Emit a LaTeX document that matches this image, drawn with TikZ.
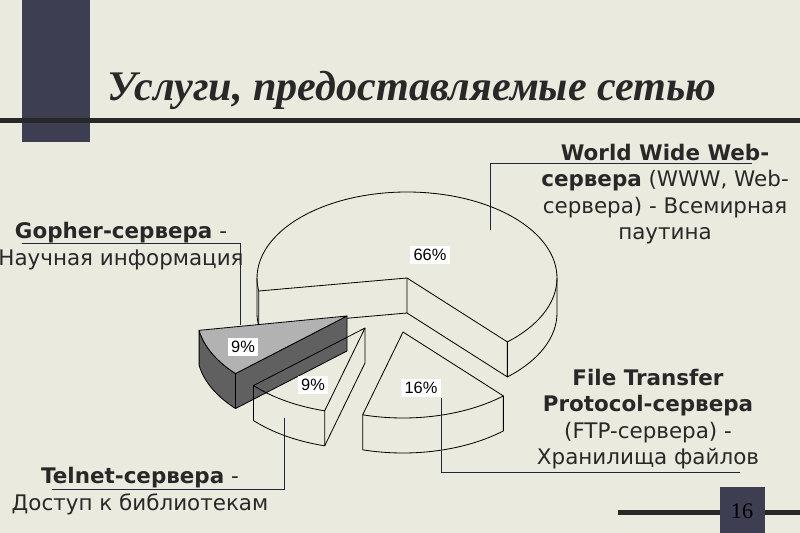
\documentclass[tikz,border=0pt]{standalone}
\usepackage{fontspec}
\setmainfont{DejaVu Sans}
\newfontfamily\titlefont{Liberation Serif}
\newfontfamily\pctfont{Liberation Sans}

\definecolor{bgpaper}{RGB}{234,234,222}
\definecolor{slateblue}{RGB}{62,62,82}
\definecolor{inkgray}{RGB}{40,40,40}
\definecolor{leadcol}{RGB}{30,40,60}
\definecolor{topgray}{RGB}{178,178,178}
\definecolor{sidegray}{RGB}{96,96,96}

\begin{document}
\begin{tikzpicture}[x=0.03cm,y=0.03cm,
  pct/.style={fill=white,inner sep=3pt,font=\pctfont\fontsize{14}{16}\selectfont},
  lbl/.style={align=center,text=inkgray,font=\fontsize{18.3}{22.5}\selectfont},
  leader/.style={draw=leadcol,line width=0.6pt},
  slice/.style={draw=black,line width=0.7pt,line join=round}]
\fill[bgpaper] (0,0) rectangle (800,-533);
\useasboundingbox (0,0) rectangle (800,-533);

% title bar
\fill[slateblue] (22,0) rectangle (90,-142);
\fill[inkgray] (0,-118) rectangle (800,-123);
\node[anchor=base west,inner sep=0pt,text=inkgray,
  font=\titlefont\bfseries\itshape\fontsize{36}{40}\selectfont] (title) at (107,-100)
  {Услуги, предоставляемые сетью};

% page number
\fill[inkgray] (618,-510) rectangle (800,-515);
\fill[slateblue] (720,-487) rectangle (765,-533);
\node[text=black,font=\titlefont\fontsize{19}{20}\selectfont] (pagenum) at (742,-511) {16};

% leader lines
\coordinate (gopstart) at (22,-243);
\coordinate (goptip) at (240,-325);
\draw[leader] (gopstart) -| (goptip);
\coordinate (wwwtip) at (490,-230);
\coordinate (wwwtail) at (752,-163);
\draw[leader] (wwwtip) |- (wwwtail);
\coordinate (teltip) at (284,-418);
\coordinate (teltail) at (52,-489);
\draw[leader] (teltip) |- (teltail);

% pie: 66% slice
\coordinate (www) at (407,-278);
\draw[slice] (www) -- ++(-48:150 and 86) arc[start angle=-48,end angle=188.7,x radius=150,y radius=86] -- cycle;
\draw[slice] (www) -- ++(0,-35) -- ++(-48:150 and 86) -- ++(0,35);
\draw[slice] (www) ++(0,-35) -- ++(188.7:150 and 86) -- ++(0,35);
\draw[slice] (www) ++(-48:150 and 86) ++(0,-35) arc[start angle=-48,end angle=0,x radius=150,y radius=86] -- ++(0,35);
\draw[slice] (www) ++(180:150 and 86) -- ++(0,-35) arc[start angle=180,end angle=188.7,x radius=150,y radius=86];

% gopher slice
\coordinate (gop) at (347,-316);
\filldraw[slice,fill=sidegray] (gop) ++(-170.4:150 and 86) -- ++(0,-35)
  arc[start angle=-170.4,end angle=-138,x radius=150,y radius=86] -- ++(0,35)
  arc[start angle=-138,end angle=-170.4,x radius=150,y radius=86] -- cycle;
\filldraw[slice,fill=sidegray] (gop) -- ++(-138:150 and 86) -- ++(0,-35) -- ++(42:150 and 86) -- cycle;
\filldraw[slice,fill=topgray] (gop) -- ++(-170.4:150 and 86) arc[start angle=-170.4,end angle=-138,x radius=150,y radius=86] -- cycle;

% telnet slice
\coordinate (tel) at (365,-328);
\draw[slice] (tel) -- ++(-138:150 and 86) arc[start angle=-138,end angle=-105.6,x radius=150,y radius=86] -- cycle;
\draw[slice] (tel) ++(-138:150 and 86) -- ++(0,-35) arc[start angle=-138,end angle=-105.6,x radius=150,y radius=86] -- ++(0,35);
\draw[slice] (tel) -- ++(0,-35) -- ++(-105.6:150 and 86);

% ftp slice
\coordinate (ftp) at (403,-332);
\draw[slice] (ftp) -- ++(-105.6:150 and 86) arc[start angle=-105.6,end angle=-48,x radius=150,y radius=86] -- cycle;
\draw[slice] (ftp) ++(-105.6:150 and 86) -- ++(0,-35) arc[start angle=-105.6,end angle=-48,x radius=150,y radius=86] -- ++(0,35);

% percentages
\node[pct] (p66) at (430,-255) {66\%};
\node[pct] (p9g) at (243,-347) {9\%};
\node[pct] (p9t) at (313,-385) {9\%};
\node[pct] (p16) at (421,-388) {16\%};
\coordinate (ftptail) at (740,-472);
\draw[leader] (p16.south east) |- (ftptail);

% labels
\node[lbl] (wwwlbl) at (665,-194) {\textbf{World Wide Web-}\\\textbf{сервера} (WWW, Web-\\сервера) - Всемирная\\паутина};
\node[lbl] (goplbl) at (121,-246) {\textbf{Gopher-сервера} -\\Научная информация};
\node[lbl] (ftplbl) at (648,-419) {\textbf{File Transfer}\\\textbf{Protocol-сервера}\\(FTP-сервера) -\\Хранилища файлов};
\node[lbl] (tellbl) at (140,-491) {\textbf{Telnet-сервера} -\\Доступ к библиотекам};
\end{tikzpicture}
\end{document}
